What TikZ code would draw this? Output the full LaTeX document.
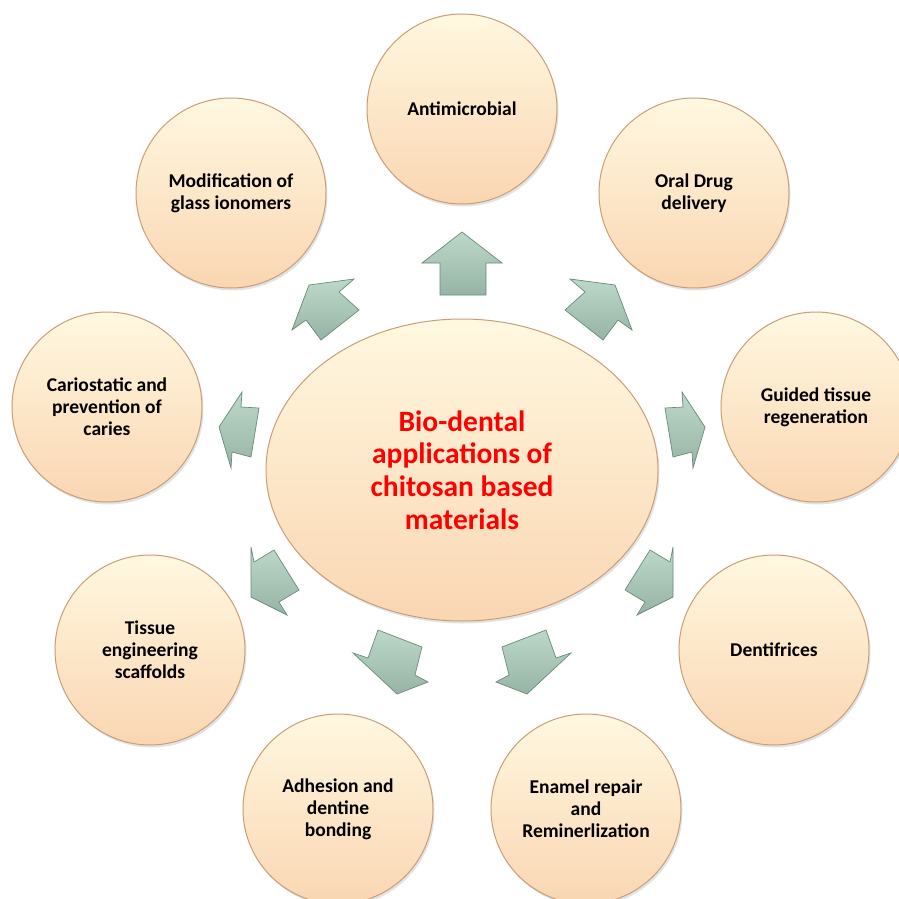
\documentclass[tikz,border=0pt]{standalone}
\usepackage{fontspec}
\setmainfont{Carlito}
\usetikzlibrary{shapes.geometric,shadows}
\definecolor{circtop}{HTML}{FFF8E0}
\definecolor{circbot}{HTML}{FAD6B2}
\definecolor{circedge}{HTML}{C89E78}
\definecolor{arrtop}{HTML}{BCD8C8}
\definecolor{arrbot}{HTML}{96B4A5}
\definecolor{arredge}{HTML}{6C8A7B}
\definecolor{hubred}{HTML}{FF0000}
\begin{document}
\begin{tikzpicture}[x=1bp,y=-1bp,
  bubble/.style={circle, minimum size=190bp, inner sep=0pt, top color=circtop, bottom color=circbot,
    draw=circedge, line width=1bp, align=center, text=black,
    font=\fontsize{19.6}{22}\selectfont\bfseries,
    drop shadow={opacity=0.22, shadow xshift=1.5bp, shadow yshift=-2.5bp}},
  hub/.style={ellipse, minimum width=392bp, minimum height=302bp, inner sep=0pt, top color=circtop, bottom color=circbot,
    draw=circedge, line width=1bp, align=center, text=hubred,
    font=\fontsize{29.6}{32.8}\selectfont\bfseries,
    drop shadow={opacity=0.22, shadow xshift=1.5bp, shadow yshift=-2.5bp}},
  blockarrow/.style={top color=arrtop, bottom color=arrbot, draw=arredge, line width=0.7bp, line join=miter}
]
\path[use as bounding box, fill=white] (0,0) rectangle (899,899);
\clip (0,0) rectangle (899,899);

% central hub
\node[hub] (hub) at (462,470) {Bio-dental\\applications of\\chitosan based\\materials};

% outer bubbles
\node[bubble] (anti) at (462,109) {Antimicrobial};
\node[bubble] (oral) at (694,193) {Oral Drug\\delivery};
\node[bubble] (guid) at (816,407) {Guided tissue\\regeneration};
\node[bubble] (dent) at (774,650) {Dentifrices};
\node[bubble] (enam) at (586,809) {Enamel repair\\and\\Reminerlization};
\node[bubble] (adhe) at (338,809) {Adhesion and\\dentine\\bonding};
\node[bubble] (tiss) at (150,650) {Tissue\\engineering\\scaffolds};
\node[bubble] (cari) at (107,407) {Cariostatic and\\prevention of\\caries};
\node[bubble] (modi) at (231,193) {Modification of\\glass ionomers};

% block arrows (tip, wing, notch, tail, tail, notch, wing)
\draw[blockarrow] (462,232) -- (502,263) -- (486,263) -- (486,295) -- (440,295) -- (440,263) -- (422,263) -- cycle;
\draw[blockarrow] (615,285) -- (632,330) -- (618,320) -- (603,340) -- (565,310) -- (585,292) -- (570,279) -- cycle;
\draw[blockarrow] (309,285) -- (292,330) -- (306,320) -- (321,340) -- (359,310) -- (339,292) -- (354,279) -- cycle;
\draw[blockarrow] (705,427) -- (693,468) -- (692,452) -- (673,457) -- (665,408) -- (683,407) -- (682,392) -- cycle;
\draw[blockarrow] (219,427) -- (231,468) -- (232,452) -- (251,457) -- (259,408) -- (241,407) -- (242,392) -- cycle;
\draw[blockarrow] (673,597) -- (637,615) -- (645,602) -- (625,590) -- (650,550) -- (670,562) -- (673,547) -- cycle;
\draw[blockarrow] (251,597) -- (287,615) -- (279,602) -- (299,590) -- (274,550) -- (254,562) -- (251,547) -- cycle;
\draw[blockarrow] (397,694) -- (428,682) -- (415,675) -- (422,647) -- (378,630) -- (368,658) -- (353,653) -- cycle;
\draw[blockarrow] (527,694) -- (496,682) -- (509,675) -- (502,647) -- (546,630) -- (556,658) -- (571,653) -- cycle;
\end{tikzpicture}
\end{document}
